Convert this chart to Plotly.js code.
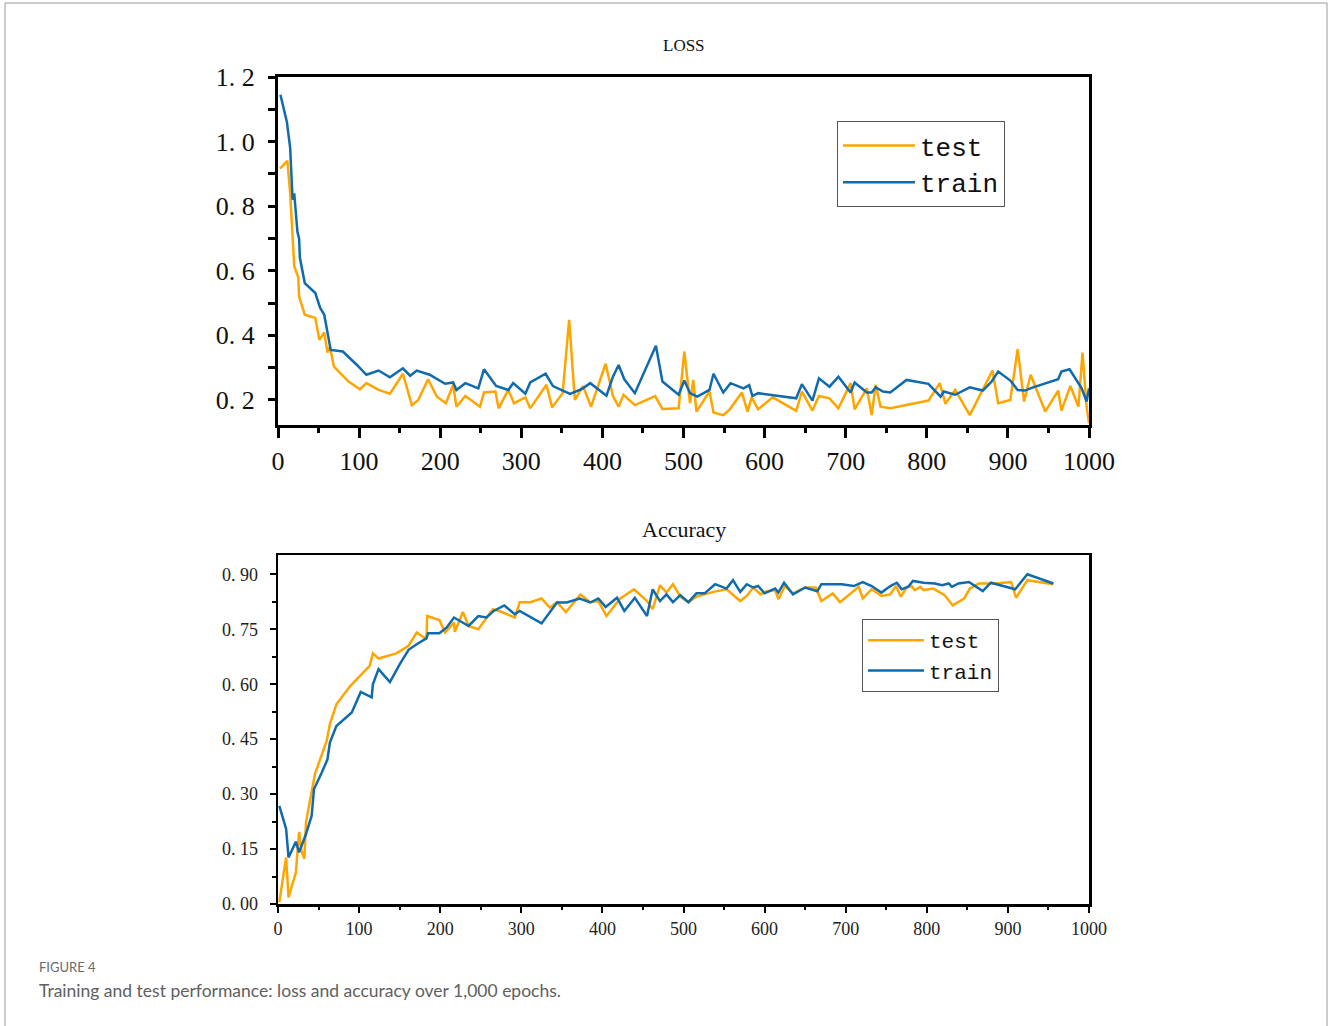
<!DOCTYPE html>
<html>
<head>
<meta charset="utf-8">
<script src="https://cdn.plot.ly/plotly-3.0.1.min.js"></script>
<style>html,body{margin:0;padding:0;background:#fff;}#chart{width:1330px;height:1026px;}</style>
</head>
<body>
<div id="chart"></div>
<script>
// ---- LOSS panel data ----
var lossTestEpochs = [2.5,11.5,15,20,25,26,33,46,51,57,61,64,69,87,101,109,124,138,154,165,173,185,196,207,216,220,231,249,254,268,272,284,291,305,311,331,338,351,359,366,376,386,404,413,420,426,440,465,474,494,501,508,512,516,532,537,549,557,572,579,584,592,610,639,646,659,667,680,691,706,711,726,732,737,743,755,802,816,823,835,853,881,888,903,912,920,928,946,962,966,977,987,992,997,1000];
var lossTest = [0.916,0.94,0.842,0.614,0.58,0.52,0.464,0.454,0.386,0.409,0.347,0.365,0.303,0.257,0.233,0.252,0.231,0.219,0.281,0.184,0.2,0.264,0.21,0.19,0.247,0.179,0.212,0.179,0.223,0.226,0.174,0.231,0.19,0.208,0.174,0.247,0.177,0.221,0.448,0.2,0.243,0.179,0.312,0.212,0.179,0.216,0.184,0.212,0.172,0.174,0.35,0.19,0.262,0.164,0.226,0.161,0.153,0.171,0.223,0.164,0.208,0.171,0.208,0.166,0.226,0.167,0.212,0.205,0.174,0.252,0.171,0.236,0.153,0.247,0.179,0.174,0.198,0.252,0.188,0.231,0.153,0.291,0.19,0.2,0.357,0.195,0.278,0.164,0.229,0.167,0.243,0.179,0.347,0.179,0.128];

var lossTrainEpochs = [3,11,15,18,20,24,26,27,33,46,52,57,65,80,97,109,124,138,154,163,171,187,206,216,220,231,247,254,269,284,290,305,311,330,339,360,374,385,405,413,420,427,440,466,474,494,501,508,517,532,537,549,558,574,581,585,592,639,646,659,667,680,691,706,711,726,732,737,746,755,775,802,817,821,835,853,869,880,888,903,912,921,931,948,962,966,976,991,997,1000];
var lossTrain = [1.145,1.06,0.98,0.82,0.84,0.72,0.70,0.64,0.562,0.531,0.485,0.464,0.355,0.35,0.309,0.278,0.291,0.27,0.298,0.275,0.291,0.278,0.25,0.254,0.231,0.252,0.236,0.295,0.243,0.231,0.252,0.219,0.254,0.281,0.243,0.219,0.233,0.252,0.213,0.272,0.308,0.264,0.221,0.368,0.257,0.216,0.26,0.221,0.21,0.231,0.281,0.223,0.252,0.236,0.246,0.212,0.221,0.205,0.249,0.198,0.267,0.241,0.272,0.223,0.254,0.223,0.223,0.239,0.226,0.223,0.262,0.25,0.21,0.226,0.216,0.239,0.229,0.257,0.288,0.26,0.231,0.229,0.239,0.254,0.264,0.288,0.295,0.236,0.195,0.236];

// ---- Accuracy panel data ----
var accTestEpochs = [1.6,10,13,22,26,29,32.5,34.5,45.6,60,64,72,89,101,113,117,124,146,161,171,183,184,199,206,217,218,228,235,247,265,276,292,298,311,325,335,344,355,373,385,395,405,422,439,455,462,471,479,487,496,506,516,537,553,570,578,586,595,603,613,617,625,635,650,663,670,684,693,716,721,732,744,755,762,768,775,781,785,792,796,808,822,832,846,853,864,885,904,910,924,956];
var accTest = [0.005,0.127,0.018,0.086,0.197,0.145,0.123,0.223,0.355,0.445,0.491,0.545,0.595,0.623,0.65,0.684,0.67,0.684,0.705,0.741,0.723,0.786,0.775,0.741,0.768,0.743,0.797,0.759,0.75,0.805,0.797,0.782,0.824,0.824,0.834,0.809,0.824,0.797,0.845,0.824,0.827,0.786,0.834,0.859,0.827,0.805,0.87,0.85,0.873,0.839,0.824,0.839,0.852,0.859,0.827,0.841,0.864,0.845,0.854,0.857,0.832,0.868,0.848,0.864,0.864,0.827,0.848,0.824,0.866,0.834,0.859,0.841,0.845,0.868,0.839,0.864,0.868,0.857,0.866,0.857,0.861,0.843,0.815,0.834,0.861,0.875,0.875,0.879,0.836,0.884,0.873];

var accTrainEpochs = [1.6,10,13,22,26,34.5,41.5,44.4,54,61,64,72,91,102,115.5,117,124,138,150,161,171,183,185,199,208,217,235,247,257,266,279,292,298,325,344,356,372,385,395,404,418,427,440,455,462,471,479,487,496,506,516,526,539,553,561,570,578,586,592,600,613,617,624,635,650,665,670,695,710,721,732,744,755,763,769,777,783,796,810,819,827,831,839,852,869,879,909,924,956];
var accTrain = [0.268,0.205,0.127,0.17,0.141,0.191,0.241,0.314,0.359,0.395,0.441,0.486,0.523,0.579,0.564,0.6,0.641,0.606,0.654,0.694,0.709,0.725,0.739,0.739,0.755,0.782,0.759,0.786,0.782,0.8,0.815,0.791,0.8,0.766,0.823,0.823,0.834,0.823,0.834,0.811,0.836,0.8,0.836,0.786,0.859,0.827,0.845,0.824,0.843,0.824,0.848,0.848,0.873,0.861,0.884,0.852,0.873,0.864,0.868,0.848,0.861,0.85,0.877,0.845,0.864,0.854,0.873,0.873,0.868,0.879,0.868,0.85,0.868,0.877,0.859,0.866,0.882,0.877,0.875,0.87,0.875,0.866,0.875,0.879,0.854,0.877,0.859,0.9,0.875];

var seriesNames = ['test', 'train'];
var lossTickVals = [0.2,0.3,0.4,0.5,0.6,0.7,0.8,0.9,1.0,1.1,1.2];
var lossTickText = ['0. 2','','0. 4','','0. 6','','0. 8','','1. 0','','1. 2'];
var accTickVals = [0,0.15,0.30,0.45,0.60,0.75,0.90];
var accTickText = ['0. 00','0. 15','0. 30','0. 45','0. 60','0. 75','0. 90'];
var epochTicks = [0,100,200,300,400,500,600,700,800,900,1000];

var ORANGE = '#FFA500';
var BLUE = '#0F6BAE';
var W = 1330, H = 1026;
function px(x){return x / W;}
function py(y){return 1 - y / H;}

var traces = [
  {x: lossTestEpochs, y: lossTest, name: seriesNames[0], type: 'scatter', mode: 'lines', line: {color: ORANGE, width: 2.5}, xaxis: 'x', yaxis: 'y', legend: 'legend'},
  {x: lossTrainEpochs, y: lossTrain, name: seriesNames[1], type: 'scatter', mode: 'lines', line: {color: BLUE, width: 2.5}, xaxis: 'x', yaxis: 'y', legend: 'legend'},
  {x: accTestEpochs, y: accTest, name: seriesNames[0], type: 'scatter', mode: 'lines', line: {color: ORANGE, width: 2.5}, xaxis: 'x2', yaxis: 'y2', legend: 'legend2'},
  {x: accTrainEpochs, y: accTrain, name: seriesNames[1], type: 'scatter', mode: 'lines', line: {color: BLUE, width: 2.5}, xaxis: 'x2', yaxis: 'y2', legend: 'legend2'}
];

var serif = 'Liberation Serif, Times New Roman, serif';
var mono = 'Liberation Mono, Courier New, monospace';
var xDom = [px(278), px(1089)];

var layout = {
  width: W, height: H,
  margin: {l: 0, r: 0, t: 0, b: 0},
  paper_bgcolor: '#fff', plot_bgcolor: '#fff',
  showlegend: true,
  xaxis: {
    domain: xDom, anchor: 'y', range: [0, 1000],
    showline: true, mirror: true, linecolor: '#000', linewidth: 3,
    showgrid: false, zeroline: false,
    tickmode: 'array', tickvals: epochTicks,
    ticks: 'outside', ticklen: 10, tickwidth: 3, tickcolor: '#000',
    minor: {tickmode: 'linear', tick0: 50, dtick: 100, ticks: 'outside', ticklen: 5, tickwidth: 3, tickcolor: '#000', showgrid: false},
    tickfont: {family: serif, size: 26, color: '#111'},
    ticklabelstandoff: 1
  },
  yaxis: {
    domain: [py(425), py(77)], anchor: 'x', range: [0.1224, 1.2],
    showline: true, mirror: true, linecolor: '#000', linewidth: 3,
    showgrid: false, zeroline: false,
    tickmode: 'array', tickvals: lossTickVals, ticktext: lossTickText,
    ticks: 'outside', ticklen: 7, tickwidth: 3, tickcolor: '#000',
    tickfont: {family: serif, size: 26, color: '#111'},
    ticklabelstandoff: 8
  },
  xaxis2: {
    domain: xDom, anchor: 'y2', range: [0, 1000],
    showline: true, mirror: true, linecolor: '#000', linewidth: 2.5,
    showgrid: false, zeroline: false,
    tickmode: 'array', tickvals: epochTicks,
    ticks: 'outside', ticklen: 6, tickwidth: 2, tickcolor: '#000',
    minor: {tickmode: 'linear', tick0: 50, dtick: 100, ticks: 'outside', ticklen: 3, tickwidth: 2, tickcolor: '#000', showgrid: false},
    tickfont: {family: serif, size: 18, color: '#222'},
    ticklabelstandoff: 1
  },
  yaxis2: {
    domain: [py(904), py(555)], anchor: 'x2', range: [0, 0.9527],
    showline: true, mirror: true, linecolor: '#000', linewidth: 2.5,
    showgrid: false, zeroline: false,
    tickmode: 'array', tickvals: accTickVals, ticktext: accTickText,
    ticks: 'outside', ticklen: 6, tickwidth: 2, tickcolor: '#000',
    minor: {tickmode: 'linear', tick0: 0.075, dtick: 0.15, ticks: 'outside', ticklen: 4, tickwidth: 2, tickcolor: '#000', showgrid: false},
    tickfont: {family: serif, size: 18, color: '#222'},
    ticklabelstandoff: 8
  },
  legend: {
    x: px(837), y: py(121), xanchor: 'left', yanchor: 'top',
    bgcolor: '#fff', bordercolor: '#555', borderwidth: 1,
    font: {family: mono, size: 26, color: '#111'},
    itemwidth: 72, tracegroupgap: 0, traceorder: 'normal'
  },
  legend2: {
    x: px(862), y: py(619), xanchor: 'left', yanchor: 'top',
    bgcolor: '#fff', bordercolor: '#555', borderwidth: 1,
    font: {family: mono, size: 21, color: '#111'},
    itemwidth: 56, tracegroupgap: 0, traceorder: 'normal'
  },
  annotations: [
    {text: 'LOSS', xref: 'paper', yref: 'paper', x: px(683.5), y: py(45), xanchor: 'center', yanchor: 'middle', showarrow: false, font: {family: serif, size: 17, color: '#111'}},
    {text: 'Accuracy', xref: 'paper', yref: 'paper', x: px(683.5), y: py(529), xanchor: 'center', yanchor: 'middle', showarrow: false, font: {family: serif, size: 22, color: '#111'}},
    {text: 'FIGURE 4', xref: 'paper', yref: 'paper', x: px(37), y: py(967), xanchor: 'left', yanchor: 'middle', showarrow: false, font: {family: 'Lato, Noto Sans, sans-serif', size: 13, color: '#6a6a6a'}},
    {text: 'Training and test performance: loss and accuracy over 1,000 epochs.', xref: 'paper', yref: 'paper', x: px(37), y: py(990), xanchor: 'left', yanchor: 'middle', showarrow: false, font: {family: 'Lato, Noto Sans, sans-serif', size: 17.5, color: '#606060'}}
  ],
  shapes: [
    {type: 'rect', xref: 'paper', yref: 'paper', x0: px(5), x1: px(1327), y0: -0.05, y1: py(3), line: {color: '#9a9a9a', width: 1}, fillcolor: 'rgba(0,0,0,0)', layer: 'below'}
  ]
};

Plotly.newPlot('chart', traces, layout, {displayModeBar: false, staticPlot: true});
</script>
</body>
</html>
